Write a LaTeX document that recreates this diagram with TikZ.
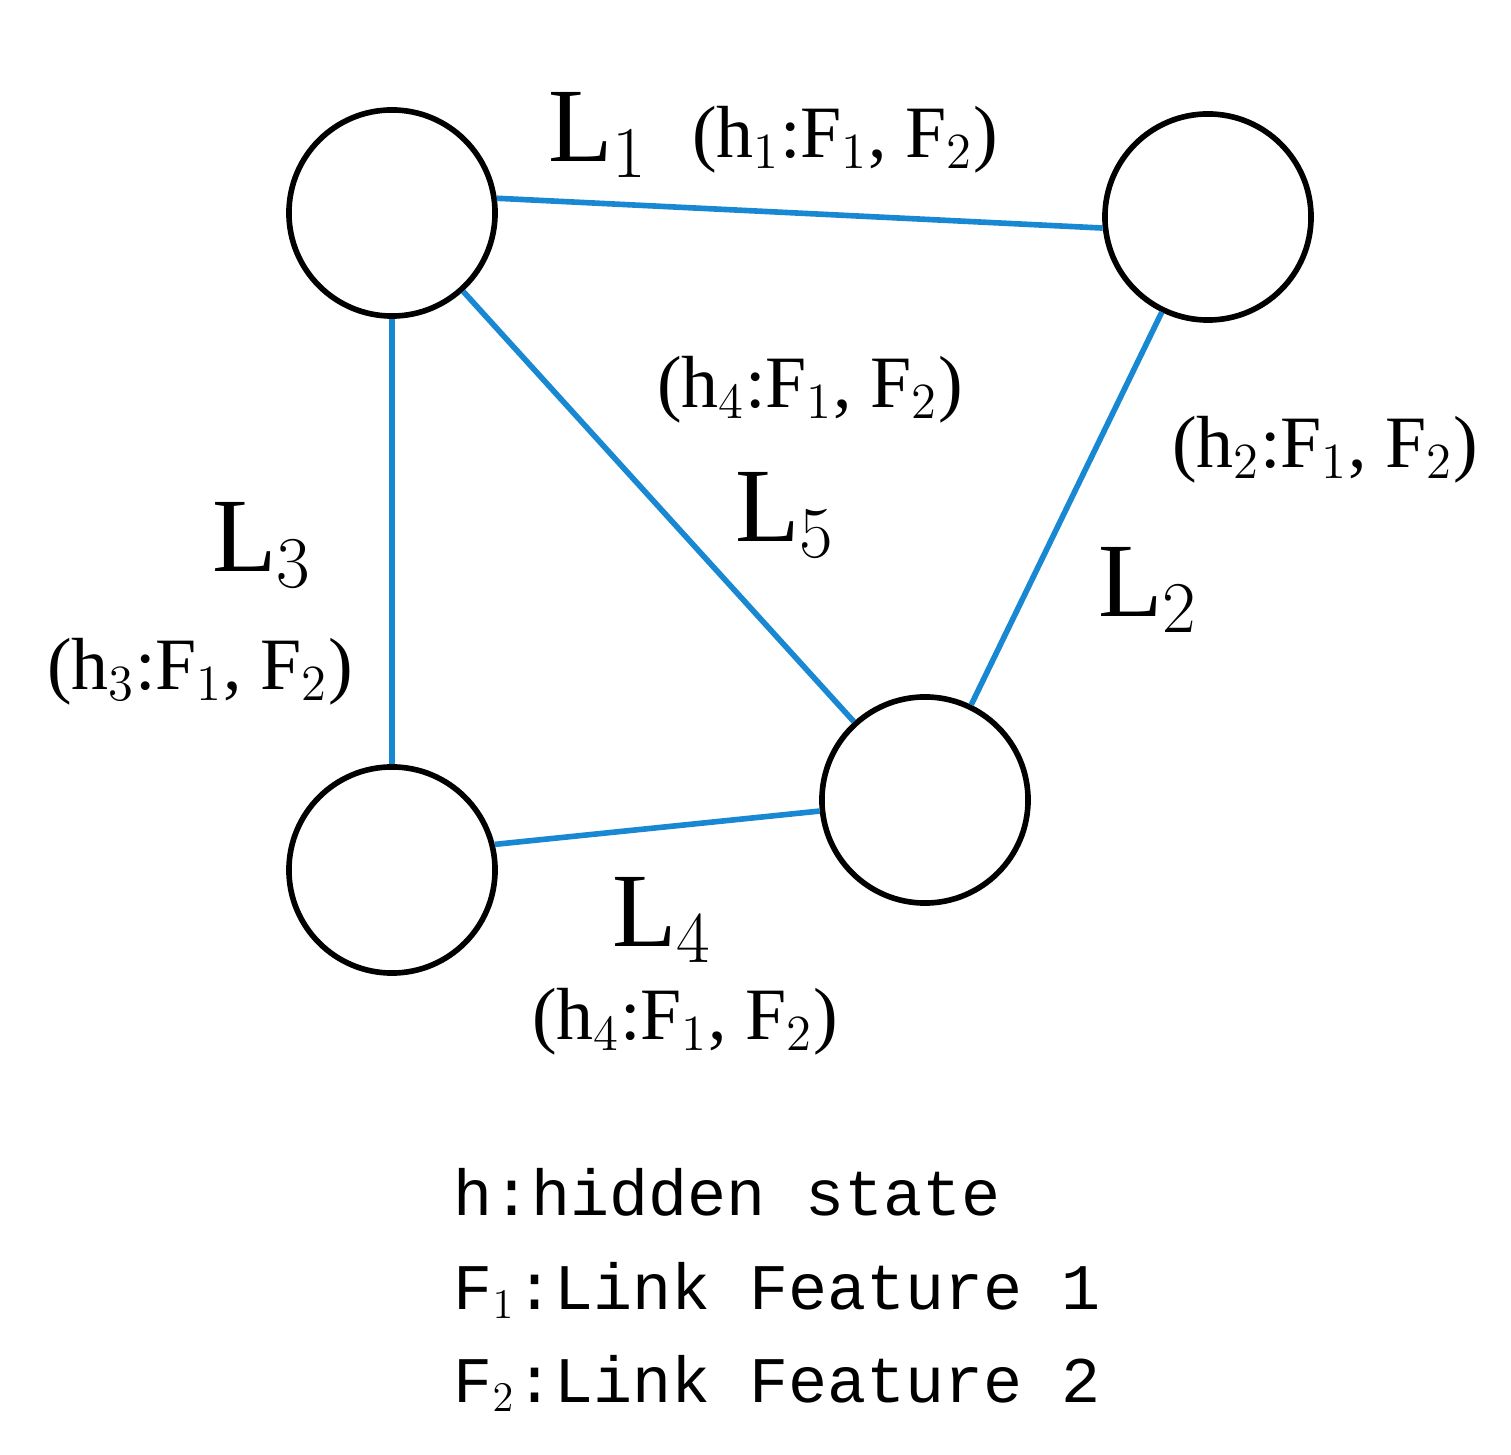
\documentclass[tikz,border=0pt]{standalone}
\usepackage{fontspec}
\setmainfont{Liberation Serif}
\newfontfamily\legendfont{Liberation Mono}
\usetikzlibrary{positioning}
\definecolor{linkblue}{RGB}{24,136,210}
\def\big#1{\fontsize{30}{32}\selectfont L$_{#1}$}
\def\hs#1{\fontsize{21}{23}\selectfont (h$_{#1}$:F$_1$, F$_2$)}
\begin{document}
\begin{tikzpicture}[x=0.01cm,y=-0.01cm,
                      state/.style = {shape=circle, draw, line width=1.6pt,
                        minimum size=2.06cm, inner sep=0pt},
                      link/.style = {draw=linkblue, line width=1.6pt},
                      lbl/.style = {inner sep=0pt}]
  \useasboundingbox (0,0) rectangle (1511,1455);
  \node[state] (n1) at (392,213) {};
  \node[state] (n2) at (1208,217) {};
  \node[state] (n3) at (392,870) {};
  \node[state] (n4) at (925,800) {};
  \draw[link] (n1.8) -- (n2.186);
  \draw[link] (n2) -- (n4);
  \draw[link] (n1) -- (n3);
  \draw[link] (n3.14) -- (n4.186);
  \draw[link] (n1) -- (n4);
  % link labels
  \node[lbl] (l1) at (598,135) {\big{1}};
  \node[lbl] (h1) at (845,140) {\hs{1}};
  \node[lbl] (h5) at (810,390) {\hs{4}};
  \node[lbl] (l5) at (785,515) {\big{5}};
  \node[lbl] (h2) at (1325,450) {\hs{2}};
  \node[lbl] (l2) at (1148,590) {\big{2}};
  \node[lbl] (l3) at (262,545) {\big{3}};
  \node[lbl] (h3) at (200,672) {\hs{3}};
  \node[lbl] (l4) at (662,920) {\big{4}};
  \node[lbl] (h4) at (685,1022) {\hs{4}};
  % legend
  \node[lbl, anchor=west, align=left, font=\legendfont\fontsize{18.5}{26.5}\selectfont]
    (key) at (453,1290) {h:hidden state\\F$_1$:Link Feature 1\\F$_2$:Link Feature 2};
\end{tikzpicture}
\end{document}
